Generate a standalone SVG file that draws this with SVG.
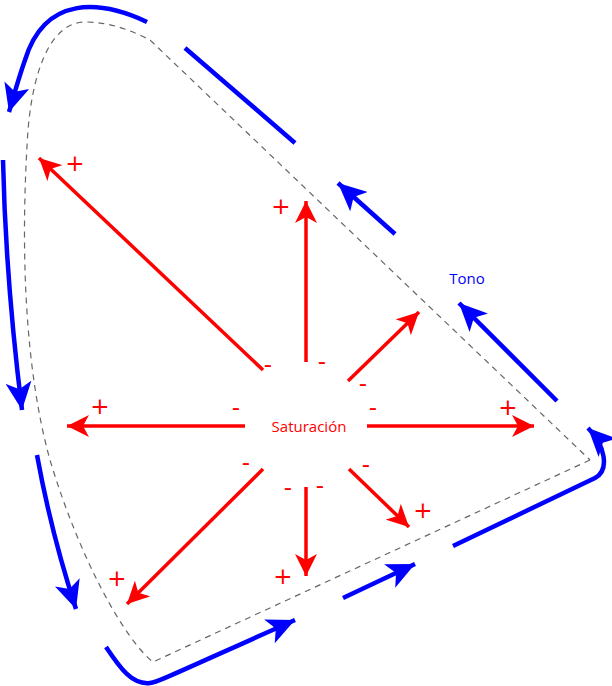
<svg xmlns="http://www.w3.org/2000/svg" width="612" height="686" viewBox="0 0 612 686">
<style>
.r{stroke:#f00;stroke-width:3.5;fill:none}
.b{stroke:#00f;stroke-width:4.5;fill:none}
.t{font-family:"Open Sans","DejaVu Sans",sans-serif;font-size:15px}
.s{font-family:"DejaVu Sans",sans-serif;font-size:23px;fill:#f00;text-anchor:middle}
</style>
<defs>
<marker id="ra" markerUnits="userSpaceOnUse" markerWidth="24" markerHeight="22" refX="22" refY="11" orient="auto"><path d="M0,0 L22,11 L0,22 L6,11 Z" fill="#f00"/></marker>
<marker id="ba" markerUnits="userSpaceOnUse" markerWidth="30" markerHeight="26" refX="28" refY="13" orient="auto"><path d="M0,0 L28,13 L0,26 L7,13 Z" fill="#00f"/></marker>
</defs>
<path d="M590,460 L153,662 C125,640 80,560 50,460 C25,370 20,250 28,130 C34,60 55,22 85,22 C110,22 130,30 150,40 L590,460" fill="none" stroke="#666" stroke-width="1.2" stroke-dasharray="6,5"/>
<g id="connectors">
<path class="b" d="M147,22 C100,0 45,-5 25,60 C18,80 14,95 9,112" marker-end="url(#ba)"/>
<path class="b" d="M185,48 L295,143"/>
<path class="b" d="M395,234 L338,183" marker-end="url(#ba)"/>
<path class="b" d="M557,401 L459,303" marker-end="url(#ba)"/>
<path class="b" d="M3,160 C5,250 12,330 22,410" marker-end="url(#ba)"/>
<path class="b" d="M37,455 C47,510 60,560 76,609" marker-end="url(#ba)"/>
<path class="b" d="M106,647 C120,668 132,685 150,683 C158,682 165,678 295,620" marker-end="url(#ba)"/>
<path class="b" d="M343,598 L415,564" marker-end="url(#ba)"/>
<path class="b" d="M453,546 L595,478 C610,470 605,445 588,428" marker-end="url(#ba)"/>
<path class="r" d="M263,370 L39,158" marker-end="url(#ra)"/>
<path class="r" d="M306,362 L306,201" marker-end="url(#ra)"/>
<path class="r" d="M348,381 L419,312" marker-end="url(#ra)"/>
<path class="r" d="M245,426 L67,426" marker-end="url(#ra)"/>
<path class="r" d="M367,426 L534,426" marker-end="url(#ra)"/>
<path class="r" d="M349,469 L409,527" marker-end="url(#ra)"/>
<path class="r" d="M306,487 L306,576" marker-end="url(#ra)"/>
<path class="r" d="M263,469 L127,604" marker-end="url(#ra)"/>
</g>
<g id="labels">
<text class="t" x="309" y="432" fill="#f00" text-anchor="middle">Saturación</text>
<text class="t" x="467" y="284" fill="#00f" text-anchor="middle">Tono</text>
<text class="s" x="75" y="171">+</text>
<text class="s" x="281" y="214">+</text>
<text class="s" x="100" y="414">+</text>
<text class="s" x="508" y="415">+</text>
<text class="s" x="423" y="518">+</text>
<text class="s" x="283" y="584">+</text>
<text class="s" x="117" y="586">+</text>
<text class="s" x="268" y="372">-</text>
<text class="s" x="322" y="369">-</text>
<text class="s" x="363" y="391">-</text>
<text class="s" x="236" y="415">-</text>
<text class="s" x="373" y="415">-</text>
<text class="s" x="246" y="470">-</text>
<text class="s" x="366" y="472">-</text>
<text class="s" x="288" y="495">-</text>
<text class="s" x="320" y="493">-</text>
</g>
</svg>
